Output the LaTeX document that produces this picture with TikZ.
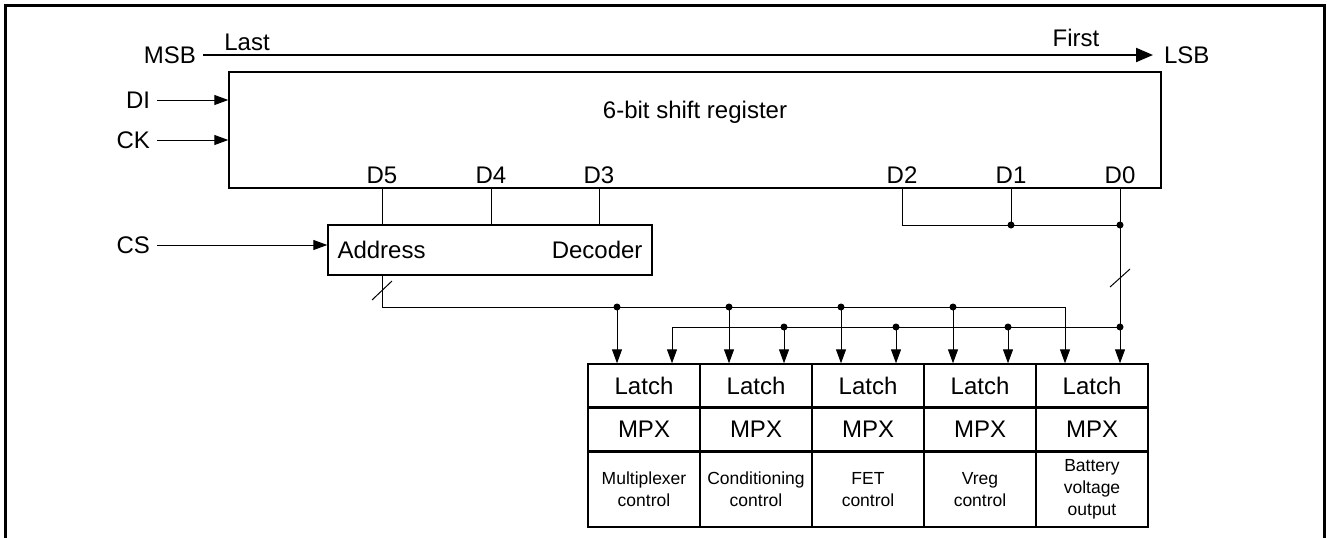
\documentclass[tikz,border=0pt]{standalone}
\usepackage{fontspec}
\setmainfont{Liberation Sans}
\usetikzlibrary{arrows.meta,positioning}

\begin{document}
\begin{tikzpicture}[x=0.5pt,y=-0.5pt,line width=0.5pt,
    >={Triangle[length=7pt,width=5pt]},font=\fontsize{12}{14}\selectfont]
  \tikzstyle{lbl}=[inner sep=0pt,outer sep=3.5pt]
  \tikzstyle{box}=[draw,line width=0.7pt,inner sep=0pt]
  \tikzstyle{cell}=[box,minimum width=56pt,align=center]
  \tikzstyle{small}=[font=\fontsize{8.75}{10.8}\selectfont]
  \tikzstyle{dot}=[circle,fill,inner sep=0pt,minimum size=3.5pt]
  \useasboundingbox (0,0) rectangle (1327,537);
  \draw[line width=1.5pt] (5,540) |- (1324,5) -- (1324,540);
  % bit order
  \node[lbl,anchor=east] (msb) at (203,55) {MSB};
  \node[lbl,anchor=west] (lsb) at (1157,55) {LSB};
  \node[inner sep=0pt] (last) at (247,42) {Last};
  \node[inner sep=0pt] (first) at (1076,38) {First};
  \draw[line width=1pt,-{Triangle[length=8.5pt,width=7pt]},shorten >=2pt] (msb.east) -- (lsb.west);
  % shift register
  \node[box,minimum width=466pt,minimum height=58pt] (sr) at (695,130) {};
  \node[inner sep=0pt] (srtitle) at (695,112) {6-bit shift register};
  \node[lbl,anchor=east] (di) at (157,100) {DI};
  \node[lbl,anchor=east] (ck) at (157,140) {CK};
  \draw[->] (di) -- (di -| sr.west);
  \draw[->] (ck) -- (ck -| sr.west);
  \foreach \n/\x in {5/382,4/491,3/599,2/902,1/1011,0/1120}
    \node[inner sep=0pt] (d\n) at (\x,175) {D\n};
  % decoder
  \node[box,minimum width=162pt,minimum height=25pt] (dec) at (490,250) {};
  \node[inner sep=0pt,anchor=west] (addr) at (337,250) {Address};
  \node[inner sep=0pt,anchor=east] (decod) at (643,250) {Decoder};
  \node[lbl,anchor=east] (cs) at (157,245) {CS};
  \draw[->] (cs) -- (cs -| dec.west);
  \foreach \n in {5,4,3}
    \draw (d\n |- sr.south) -- (d\n |- dec.north);
  % latches
  \foreach \i/\t in {0/Multiplexer\\control,1/Conditioning\\control,2/FET\\control,3/Vreg\\control,4/Battery\\voltage\\output}{
    \node[cell,minimum height=21.5pt] (latch\i) at (644+112*\i,385.5) {Latch};
    \node[cell,minimum height=21pt,below=0pt of latch\i] (mpx\i) {MPX};
    \node[cell,small,minimum height=37.5pt,below=0pt of mpx\i] (ctl\i) {\t};
    \coordinate (a\i) at ([xshift=-13.5pt]latch\i.north);
    \coordinate (b\i) at ([xshift=14pt]latch\i.north);
  }
  % data bits D2..D0
  \coordinate (j0) at (d0 |- 0,225);
  \draw (d2 |- sr.south) |- (j0);
  \draw (d1 |- sr.south) -- (d1 |- j0) node[dot] {};
  \node[dot] at (j0) {};
  \draw[->] (d0 |- sr.south) -- (b4);
  \draw (1110,287) -- (1130,269);
  % address bus
  \coordinate (bus1) at (d5 |- 0,307);
  \coordinate (bus2) at (b0 |- 0,327);
  \draw[->] (d5 |- dec.south) -- (bus1) -| (a4);
  \draw (372,300) -- (392,281);
  \draw[->] (bus2) -- (b0);
  \draw (bus2) -- (b4 |- bus2) node[dot] {};
  \foreach \i in {0,1,2,3}
    \draw[->] (a\i |- bus1) node[dot] {} -- (a\i);
  \foreach \i in {1,2,3}
    \draw[->] (b\i |- bus2) node[dot] {} -- (b\i);
\end{tikzpicture}
\end{document}
